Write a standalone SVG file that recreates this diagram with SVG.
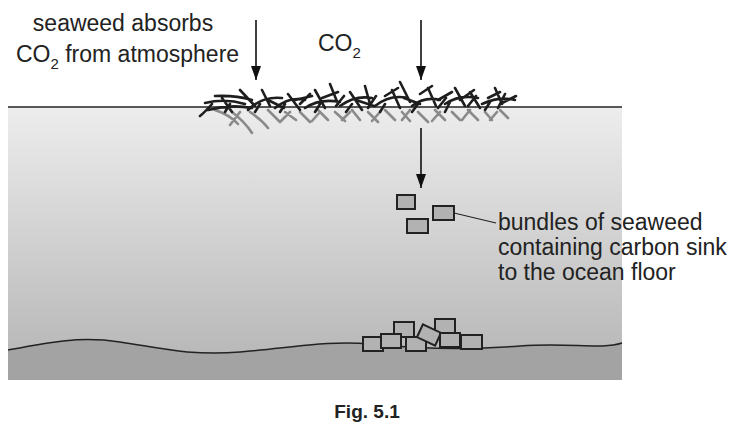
<svg xmlns="http://www.w3.org/2000/svg" width="735" height="442" viewBox="0 0 735 442">
<defs>
<linearGradient id="sea" x1="0" y1="0" x2="0" y2="1"><stop offset="0" stop-color="#ededed"/><stop offset="1" stop-color="#b3b3b3"/></linearGradient>
<marker id="ah" markerWidth="14" markerHeight="10" refX="14" refY="5" orient="auto" markerUnits="userSpaceOnUse"><path d="M0,0 L14,5 L0,10 Z" fill="#111"/></marker>
<style>
text{font-family:"Liberation Sans",Arial,sans-serif;font-size:19px;fill:#222}
.big{font-size:23px}
.b{fill:#b2b2b2;stroke:#222;stroke-width:2}
.w{fill:none;stroke:#1e1e1e;stroke-width:2.6;stroke-linecap:round}
.ws{fill:none;stroke:#8a8a8a;stroke-width:2.6;stroke-linecap:round}
.arr{stroke:#111;stroke-width:1.6;fill:none}
</style>
</defs>
<g id="ocean">
<rect x="8" y="107" width="614" height="273" fill="url(#sea)"/>
<path d="M8,350 C50,342 80,336 120,342 C160,348 190,356 240,352 C290,348 330,340 370,344 C420,349 470,350 520,346 C570,342 600,350 622,343 L622,380 L8,380 Z" fill="#a3a3a3"/>
<path d="M8,350 C50,342 80,336 120,342 C160,348 190,356 240,352 C290,348 330,340 370,344 C420,349 470,350 520,346 C570,342 600,350 622,343" fill="none" stroke="#222" stroke-width="1.5"/>
<line x1="8" y1="107" x2="622" y2="107" stroke="#222" stroke-width="1.5"/>
</g>
<g id="seaweed">
<path class="ws" d="M215,110 Q230,115 238,124 M232,112 Q245,122 252,133 M250,112 Q262,120 268,128 M268,110 L280,122 M285,112 L296,120 M300,112 L310,122 M318,110 L328,120 M335,112 L345,121 M352,110 L360,120 M368,112 L378,122 M385,110 L395,120 M402,112 L410,121 M418,112 L428,122 M435,110 L445,120 M452,112 L460,120 M468,110 L478,120 M485,112 L492,120 M500,110 L508,118 M240,112 L230,125 M290,112 L280,122 M320,112 L312,121 M350,112 L342,120 M380,112 L372,121 M410,110 L402,120 M440,112 L432,121 M470,110 L462,120 M497,112 L490,120"/>
<path class="w" d="M205,103 Q225,98 245,104 M208,110 Q230,104 252,108 M215,96 Q235,95 252,100 M240,90 L255,106 M248,110 Q262,96 282,98 M262,90 L270,106 M268,100 L284,108 M275,108 Q290,96 305,100 M288,94 L300,110 M295,100 L312,96 M305,108 Q320,98 340,102 M315,90 L325,108 M322,98 L338,92 M330,84 L338,104 M340,106 Q355,95 372,98 M350,92 L362,110 M356,100 L374,106 M365,86 L370,104 M375,106 Q390,94 408,98 M385,96 L398,88 M392,90 L400,108 M400,82 L410,102 M404,98 L420,104 M412,106 Q425,96 440,100 M420,94 L432,86 M428,88 L436,106 M438,100 L452,92 M445,104 Q460,94 478,98 M455,88 L465,106 M460,100 L474,90 M470,92 L480,108 M482,104 Q500,96 515,100 M488,98 L500,92 M495,88 L502,104 M505,94 L498,108 M500,104 L516,96 M230,104 L225,112 M260,104 L255,112 M285,104 L280,112 M320,104 L315,112 M352,104 L346,112 M385,104 L380,112 M418,104 L412,112 M450,102 L445,112 M490,102 L485,110 M212,104 Q205,112 200,116 M222,98 L232,112 M300,104 L310,94 M336,106 L344,96 M368,108 L376,96 M438,108 L446,98 M468,106 L476,96"/>
</g>
<g id="labels">
<text class="big" x="123" y="31" text-anchor="middle">seaweed absorbs</text>
<text class="big" x="16" y="62">CO<tspan font-size="15" dy="7">2</tspan><tspan dy="-7"> from atmosphere</tspan></text>
<text class="big" x="318" y="51">CO<tspan font-size="15" dy="7">2</tspan></text>
<text class="big" x="498" y="230">bundles of seaweed</text>
<text class="big" x="498" y="255">containing carbon sink</text>
<text class="big" x="498" y="280">to the ocean floor</text>
<text x="367" y="418" text-anchor="middle" font-weight="bold" font-size="20">Fig. 5.1</text>
</g>
<g id="bundles">
<rect class="b" x="397" y="195" width="18" height="14"/>
<rect class="b" x="433" y="206" width="21" height="14"/>
<rect class="b" x="407" y="219" width="21" height="14"/>
<rect class="b" x="394" y="322" width="20" height="15"/>
<rect class="b" x="435" y="319" width="20" height="14"/>
<rect class="b" x="363" y="337" width="20" height="14"/>
<rect class="b" x="381" y="334" width="20" height="14"/>
<rect class="b" x="406" y="337" width="20" height="14"/>
<rect class="b" x="419" y="328" width="20" height="14" transform="rotate(25 429 335)"/>
<rect class="b" x="440" y="333" width="20" height="14"/>
<rect class="b" x="461" y="335" width="21" height="14"/>
</g>
<g id="connectors">
<line class="arr" x1="256" y1="20" x2="256" y2="80" marker-end="url(#ah)"/>
<line class="arr" x1="421" y1="20" x2="421" y2="80" marker-end="url(#ah)"/>
<line class="arr" x1="421" y1="128" x2="421" y2="188" marker-end="url(#ah)"/>
<line x1="454" y1="213" x2="496" y2="223" stroke="#222" stroke-width="1.2"/>
</g>
</svg>
